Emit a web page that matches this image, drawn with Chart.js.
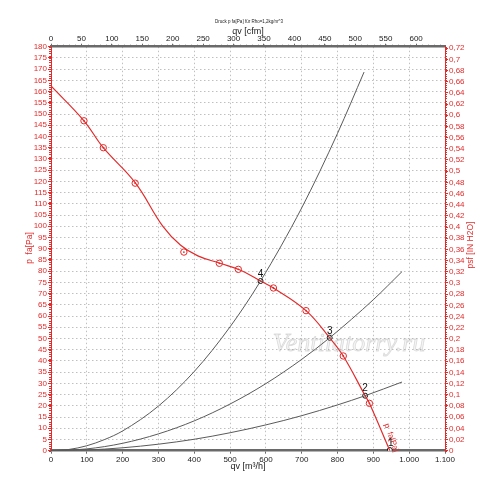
<!DOCTYPE html>
<html>
<head>
<meta charset="utf-8">
<script src="https://cdn.jsdelivr.net/npm/chart.js@4.4.1/dist/chart.umd.min.js"></script>
<style>
  html, body { margin: 0; padding: 0; background: #fff; }
  #wrap { width: 500px; height: 487px; }
</style>
</head>
<body>
<div id="wrap"><canvas id="chart" width="500" height="487"></canvas></div>
<script>
// fan curve p fa [Pa] over qv [m3/h]
const fanQ = [0, 92, 146, 235, 313, 362, 410, 472, 528, 585, 621, 712, 778, 816, 877, 889, 946];
const fanP = [162.5, 147, 135, 119.4, 99.8, 91.5, 86.8, 83.5, 80.5, 75.6, 72.5, 62.4, 50.3, 42.2, 24.5, 21.1, 0];

// measured points (red open circles)
const measQ = [92, 146, 235, 371, 470, 523, 621, 712, 816, 889];
const measP = [147, 135, 119.2, 88.5, 83.5, 80.8, 72.5, 62.4, 42.2, 21.1];

// operating points 1..4
const opQ = [946, 877, 778, 585];
const opP = [0.3, 24.5, 50.3, 75.6];
const opLabels = ['1', '2', '3', '4'];

// system curves (grey)
const sysAQ = [0, 50, 100, 150, 200, 300, 400, 500, 585, 700, 800, 874];
const sysAP = [0, 0.55, 2.2, 5, 8.8, 19.9, 35.3, 55.2, 75.6, 108.2, 141.4, 168.7];
const sysBQ = [0, 100, 200, 300, 400, 500, 600, 700, 778, 900, 980];
const sysBP = [0, 0.8, 3.3, 7.5, 13.3, 20.8, 29.9, 40.7, 50.3, 67.3, 79.8];
const sysCQ = [0, 100, 200, 300, 400, 500, 600, 700, 800, 877, 980];
const sysCP = [0, 0.3, 1.3, 2.9, 5.1, 8.0, 11.5, 15.6, 20.4, 24.5, 30.6];

// tick values
const qTicks = [0, 100, 200, 300, 400, 500, 600, 700, 800, 900, 1000, 1100];
const cfmTicks = [0, 50, 100, 150, 200, 250, 300, 350, 400, 450, 500, 550, 600];
const paTicks = [0, 5, 10, 15, 20, 25, 30, 35, 40, 45, 50, 55, 60, 65, 70, 75, 80, 85, 90,
  95, 100, 105, 110, 115, 120, 125, 130, 135, 140, 145, 150, 155, 160, 165, 170, 175, 180];
const inTicks = [0, 0.02, 0.04, 0.06, 0.08, 0.1, 0.12, 0.14, 0.16, 0.18, 0.2, 0.22, 0.24, 0.26,
  0.28, 0.3, 0.32, 0.34, 0.36, 0.38, 0.4, 0.42, 0.44, 0.46, 0.48, 0.5, 0.52, 0.54, 0.56, 0.58,
  0.6, 0.62, 0.64, 0.66, 0.68, 0.7, 0.72];

const RED = '#e32b2b';
const GRID = '#c0c0c0';
const AXIS = '#6a6a6a';
const FONT = '"Liberation Sans", Arial, sans-serif';
const CFM = 1.699;       // m3/h per cfm
const PA_IN = 249.089;   // Pa per inch H2O

function pts(xs, ys) {
  return xs.map((x, i) => ({ x: x, y: ys[i] }));
}
function fixTicks(values) {
  return function (scale) { scale.ticks = values.map(v => ({ value: v })); };
}
function fmtQ(v) {
  return v >= 1000 ? Math.floor(v / 1000) + '.' + String(v % 1000).padStart(3, '0') : String(v);
}
function fmtIn(v) {
  return String(Math.round(v * 100) / 100).replace('.', ',');
}

// texts, minor ticks, labels of the operating points
const extras = {
  id: 'extras',
  afterDraw(chart) {
    const ctx = chart.ctx;
    const xs = chart.scales.x, ys = chart.scales.y;
    const a = chart.chartArea;
    ctx.save();

    // minor ticks on left and right axes
    ctx.strokeStyle = RED;
    ctx.lineWidth = 1;
    ctx.beginPath();
    for (let p = 0; p <= 180; p++) {
      const y = Math.round(ys.getPixelForValue(p)) + 0.5;
      ctx.moveTo(a.left - 2, y); ctx.lineTo(a.left, y);
      ctx.moveTo(a.right, y); ctx.lineTo(a.right + 2, y);
    }
    ctx.stroke();

    // minor ticks on top axis
    ctx.strokeStyle = AXIS;
    ctx.beginPath();
    for (let c = 0; c <= 640; c += 10) {
      const x = Math.round(xs.getPixelForValue(c * CFM)) + 0.5;
      ctx.moveTo(x, a.top - 2); ctx.lineTo(x, a.top);
    }
    ctx.stroke();

    // watermark
    ctx.font = 'italic 26px "Liberation Serif", "DejaVu Serif", serif';
    ctx.textAlign = 'center';
    ctx.textBaseline = 'alphabetic';
    ctx.fillStyle = 'rgba(150,150,150,0.10)';
    ctx.strokeStyle = 'rgba(150,150,150,0.3)';
    ctx.lineWidth = 0.8;
    ctx.fillText('Ventilatorry.ru', 349, 351);
    ctx.strokeText('Ventilatorry.ru', 349, 351);

    // titles
    ctx.fillStyle = '#222';
    ctx.textBaseline = 'middle';
    ctx.font = '4.5px ' + FONT;
    ctx.fillText('Druck p fa[Pa] für Rho=1,2kg/m^3', 249, 22);
    ctx.font = '9px ' + FONT;
    ctx.fillText('qv [cfm]', 248, 32);
    ctx.fillText('qv [m³/h]', 248, 467);

    ctx.fillStyle = RED;
    ctx.font = '8.5px ' + FONT;
    ctx.save();
    ctx.translate(30, 248);
    ctx.rotate(-Math.PI / 2);
    ctx.fillText('p  fa[Pa]', 0, 0);
    ctx.restore();
    ctx.save();
    ctx.translate(471, 245);
    ctx.rotate(-Math.PI / 2);
    ctx.fillText('psf [IN H2O]', 0, 0);
    ctx.restore();

    // label along the fan curve
    ctx.save();
    ctx.translate(xs.getPixelForValue(936), ys.getPixelForValue(12));
    ctx.rotate(70 * Math.PI / 180);
    ctx.textAlign = 'left';
    ctx.font = '8px ' + FONT;
    ctx.fillText('p  fa[Pa]', 0, 0);
    ctx.restore();

    // operating point numbers
    ctx.fillStyle = '#111';
    ctx.font = '10px ' + FONT;
    ctx.textAlign = 'center';
    opQ.forEach((q, i) => {
      const dx = i === 0 ? 1 : 0;
      ctx.fillText(opLabels[i], xs.getPixelForValue(q) + dx, ys.getPixelForValue(opP[i]) - 7);
    });
    ctx.restore();
  }
};

new Chart(document.getElementById('chart'), {
  type: 'scatter',
  data: {
    datasets: [
      { data: pts(sysAQ, sysAP), showLine: true, borderColor: '#5a5a5a', borderWidth: 1, pointRadius: 0, cubicInterpolationMode: 'monotone' },
      { data: pts(sysBQ, sysBP), showLine: true, borderColor: '#5a5a5a', borderWidth: 1, pointRadius: 0, cubicInterpolationMode: 'monotone' },
      { data: pts(sysCQ, sysCP), showLine: true, borderColor: '#5a5a5a', borderWidth: 1, pointRadius: 0, cubicInterpolationMode: 'monotone' },
      { data: pts(fanQ, fanP), showLine: true, borderColor: RED, borderWidth: 1.2, pointRadius: 0, tension: 0.4 },
      { data: pts(measQ, measP), showLine: false, pointRadius: 3.2, pointBorderColor: RED, pointBackgroundColor: 'rgba(255,255,255,0)', pointBorderWidth: 1 },
      { data: pts(measQ, measP), showLine: false, pointRadius: 0.9, pointBorderWidth: 0, pointBackgroundColor: RED },
      { data: pts(opQ, opP), showLine: false, pointRadius: 2.5, pointBorderColor: '#111', pointBackgroundColor: '#fff', pointBorderWidth: 1 }
    ]
  },
  options: {
    responsive: false,
    animation: false,
    layout: { padding: 0 },
    plugins: { legend: { display: false }, tooltip: { enabled: false } },
    scales: {
      x: {
        type: 'linear', position: 'bottom', min: 0, max: 1100,
        afterBuildTicks: fixTicks(qTicks),
        afterFit: s => { s.height = 36.3; },
        ticks: { autoSkip: false, maxRotation: 0, padding: 1, color: '#222', font: { size: 8, family: FONT }, callback: v => fmtQ(v) },
        grid: { color: GRID, lineWidth: 1, tickLength: 3, tickColor: AXIS },
        border: { color: AXIS, width: 2.5, dash: [1.5, 2.5] }
      },
      x2: {
        type: 'linear', position: 'top', min: 0, max: 1100 / CFM,
        afterBuildTicks: fixTicks(cfmTicks),
        afterFit: s => { s.height = 46.7; },
        ticks: { autoSkip: false, maxRotation: 0, padding: 0, color: '#222', font: { size: 8, family: FONT } },
        grid: { drawOnChartArea: false, tickLength: 3, tickColor: AXIS },
        border: { color: AXIS, width: 2.5 }
      },
      y: {
        type: 'linear', position: 'left', min: 0, max: 180,
        afterBuildTicks: fixTicks(paTicks),
        afterFit: s => { s.width = 51; },
        ticks: { autoSkip: false, padding: 1, color: RED, font: { size: 8, family: FONT } },
        grid: { color: GRID, lineWidth: 1, tickLength: 3, tickColor: RED },
        border: { color: RED, width: 1, dash: [1.5, 2.5] }
      },
      y2: {
        type: 'linear', position: 'right', min: 0, max: 180 / PA_IN,
        afterBuildTicks: fixTicks(inTicks),
        afterFit: s => { s.width = 55; },
        ticks: { autoSkip: false, padding: 1, color: RED, font: { size: 8, family: FONT }, callback: v => fmtIn(v) },
        grid: { drawOnChartArea: false, tickLength: 3, tickColor: RED },
        border: { color: RED, width: 1 }
      }
    }
  },
  plugins: [extras]
});
</script>
</body>
</html>
